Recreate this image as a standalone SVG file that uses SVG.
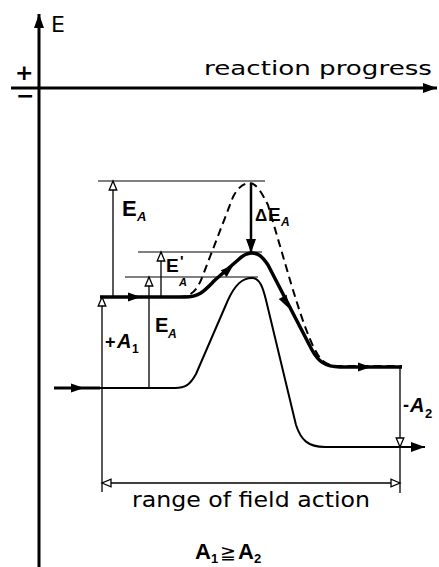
<svg xmlns="http://www.w3.org/2000/svg" width="439" height="567" viewBox="0 0 439 567">
<style>
.ax{stroke:#000;stroke-width:3;fill:none}
.thin{stroke:#000;stroke-width:1;fill:none}
.dim{stroke:#000;stroke-width:1.3;fill:none}
.low{stroke:#000;stroke-width:2;fill:none;stroke-linejoin:round}
.up{stroke:#000;stroke-width:3.5;fill:none;stroke-linejoin:round}
.dash{stroke:#000;stroke-width:2;fill:none;stroke-dasharray:8 5}
.lbl{font-family:"Liberation Sans",Arial,sans-serif;font-weight:bold;fill:#000}
.txt{font-family:"DejaVu Sans","Liberation Sans",sans-serif;fill:#000}
</style>
<defs>
<marker id="hol" markerUnits="userSpaceOnUse" markerWidth="14" markerHeight="12" viewBox="-11 -6 14 12" refX="0" refY="0" orient="auto">
<path d="M0,0 L-9,-3.8 L-9,3.8 Z" fill="#fff" stroke="#000" stroke-width="1.3"/>
</marker>
<marker id="fil" markerUnits="userSpaceOnUse" markerWidth="18" markerHeight="14" viewBox="-16 -7 18 14" refX="0" refY="0" orient="auto">
<path d="M0,0 L-14,-5 L-14,5 Z" fill="#000"/>
</marker>
<path id="ah" d="M6,0 L-7,-4.5 L-7,4.5 Z" fill="#000"/>
</defs>

<g id="axes">
<path class="ax" d="M39,567 V14" marker-end="url(#fil)"/>
<path class="ax" d="M11,88 H437" marker-end="url(#fil)"/>
<text class="txt" x="51" y="32" font-size="22">E</text>
<text class="txt" x="15" y="80" font-size="22" font-weight="bold">+</text>
<text class="txt" x="16" y="103" font-size="22" font-weight="bold">−</text>
<text class="txt" x="204" y="75" font-size="20" textLength="228" lengthAdjust="spacingAndGlyphs">reaction progress</text>
</g>

<g id="connectors">
<!-- reference levels -->
<path class="thin" d="M98,181 H265"/>
<path class="thin" d="M138,252 H262"/>
<path class="thin" d="M125,277 H258"/>

<!-- lower curve -->
<path class="low" d="M54,388 H175 C185,388 190,385 196,374 L228,300 C235,285 242,278 252,278 C260,278 263,288 266,300 L296,425 C301,440 308,447 325,447 H425" marker-end="url(#fil)"/>
<path d="M54,388 H100" stroke="#000" stroke-width="3"/>
<use href="#ah" transform="translate(78,388)"/>

<!-- dashed curve -->
<path class="dash" d="M100,297 H178 C190,297 197,292 203,275 L233,197 C238,187 244,183 250,183 C256,183 262,193 268,205 L290,280 C296,300 308,340 318,355 C324,364 330,366 340,366 H402"/>

<!-- thick curve -->
<path class="up" d="M100,297 H185 C200,297 205,290 215,280 L238,260 C243,255 247,253 252,253 C258,253 262,256 268,265 L312,350 C318,361 325,367 340,367 H402"/>
<use href="#ah" transform="translate(135,297)"/>
<use href="#ah" transform="translate(229,269) rotate(-41)"/>
<use href="#ah" transform="translate(286,303) rotate(62)"/>
<use href="#ah" transform="translate(365,367)"/>

<!-- vertical measure arrows -->
<path class="dim" d="M113,297 V181" marker-end="url(#hol)"/>
<path class="dim" d="M161,297 V252" marker-end="url(#hol)"/>
<path class="dim" d="M149,388 V277" marker-end="url(#hol)"/>
<path class="dim" d="M102,492 V297" marker-end="url(#hol)"/>
<path class="dim" d="M400,367 V447" marker-end="url(#hol)"/>
<path class="dim" d="M400,447 V493"/>
<path d="M251,183 V253" stroke="#000" stroke-width="2.5" fill="none" marker-end="url(#fil)"/>

<!-- range of field action -->
<path class="dim" d="M251,483 H102" marker-end="url(#hol)"/>
<path class="dim" d="M251,483 H400" marker-end="url(#hol)"/>
</g>

<g id="labels">
<text class="lbl" x="122" y="216" font-size="22">E</text>
<text class="lbl" x="137" y="221" font-size="13" font-style="italic">A</text>

<text class="lbl" x="166" y="272" font-size="19">E</text>
<text class="lbl" x="180" y="266" font-size="15">'</text>
<text class="lbl" x="179" y="286" font-size="11" font-style="italic">A</text>

<text class="lbl" x="155" y="332" font-size="20">E</text>
<text class="lbl" x="168" y="338" font-size="12" font-style="italic">A</text>

<text class="lbl" x="105" y="348" font-size="18">+</text>
<text class="lbl" x="117" y="348" font-size="20" font-style="italic">A</text>
<text class="lbl" x="132" y="353" font-size="12">1</text>

<text class="lbl" x="255" y="221" font-size="17">Δ</text>
<text class="lbl" x="268" y="221" font-size="19">E</text>
<text class="lbl" x="281" y="226" font-size="12" font-style="italic">A</text>

<text class="lbl" x="403" y="411" font-size="18">-</text>
<text class="lbl" x="410" y="412" font-size="20" font-style="italic">A</text>
<text class="lbl" x="425" y="418" font-size="13">2</text>

<text class="txt" x="132" y="507" font-size="21" textLength="238" lengthAdjust="spacingAndGlyphs">range of field action</text>

<text class="lbl" x="195" y="559" font-size="22">A</text>
<text class="lbl" x="211" y="563" font-size="13">1</text>
<text class="txt" x="220" y="559" font-size="19">≧</text>
<text class="lbl" x="238" y="559" font-size="22">A</text>
<text class="lbl" x="254" y="563" font-size="13">2</text>
</g>
</svg>
